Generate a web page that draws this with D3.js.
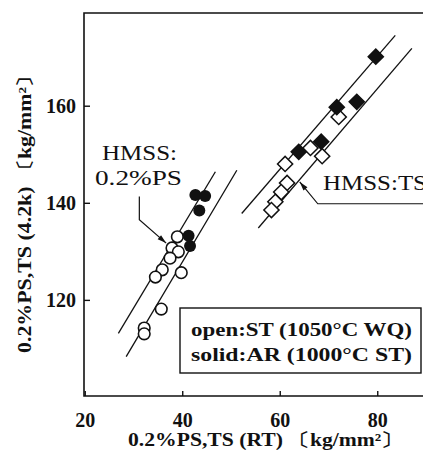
<!DOCTYPE html>
<html>
<head>
<meta charset="utf-8">
<script src="https://cdn.jsdelivr.net/npm/d3@7"></script>
<style>
body { margin: 0; background: #fff; }
svg { display: block; }
text { font-family: "Liberation Serif", "DejaVu Serif", serif; fill: #111; }
</style>
</head>
<body>
<svg id="chart" width="423" height="453"></svg>
<script>
// 0.2%PS (circles) and TS (diamonds), RT vs 4.2K
var openPS = [[39.0, 133.0], [37.9, 130.7], [39.2, 129.9], [37.5, 128.6], [35.9, 126.2],
              [34.5, 124.7], [39.8, 125.6], [35.7, 118.1], [32.2, 114.2], [32.2, 113.0]];
var solidPS = [[42.7, 141.6], [44.7, 141.4], [43.5, 138.4], [41.3, 133.2], [41.6, 131.1]];
var openTS = [[72.1, 157.7], [66.3, 151.3], [68.7, 149.6], [61.1, 148.0], [61.5, 144.1],
              [60.3, 142.2], [59.1, 140.2], [58.3, 138.5]];
var solidTS = [[79.7, 170.1], [75.8, 160.8], [71.7, 159.7], [68.5, 152.6], [63.9, 150.5]];

var fitLines = [
    [[26.9, 113.1], [46.8, 146.4]],
    [[28.5, 108.3], [51.2, 146.7]],
    [[52.2, 137.8], [83.7, 174.5]],
    [[55.6, 134.8], [87.1, 171.8]]
];

var xTicks = [20, 40, 60, 80];
var yTicks = [120, 140, 160];

var xTitle = "0.2%PS,TS (RT) \u3014kg/mm\u00b2\u3015";
var yTitle = "0.2%PS,TS (4.2k) \u3014kg/mm\u00b2\u3015";
var legendLines = ["open:ST (1050\u00b0C  WQ)", "solid:AR (1000\u00b0C  ST)"];

var svg = d3.select("#chart");

var x = d3.scaleLinear().domain([19.85, 90]).range([84, 426]);
var y = d3.scaleLinear().domain([100.2, 179.1]).range([396, 13]);

// frame (right side runs off the picture)
svg.append("path")
    .attr("d", "M" + x(90) + "," + y(179.1) + "H" + x(19.85) + "V" + y(100.2) + "H" + x(90))
    .attr("fill", "none")
    .attr("stroke", "#111")
    .attr("stroke-width", 1.6);

var xAxis = d3.axisBottom(x).tickValues(xTicks).tickSizeInner(-5).tickSizeOuter(0).tickPadding(13);
var yAxis = d3.axisLeft(y).tickValues(yTicks).tickSizeInner(-6).tickSizeOuter(0).tickPadding(13);

var gx = svg.append("g").attr("transform", "translate(0," + y(100.2) + ")").call(xAxis);
var gy = svg.append("g").attr("transform", "translate(" + x(19.85) + ",0)").call(yAxis);

[gx, gy].forEach(function(g)
{
    g.select(".domain").remove();
    g.selectAll("line").attr("stroke", "#111").attr("stroke-width", 1.4);
    g.selectAll("text")
        .attr("fill", "#111")
        .style("font-family", "'Liberation Serif', serif")
        .style("font-size", "20px")
        .style("font-weight", "bold");
});
gx.selectAll("text").attr("dy", "0.9em");
gy.selectAll("text").attr("x", -8);

// axis titles
svg.append("text")
    .attr("x", 128).attr("y", 446)
    .attr("textLength", 275).attr("lengthAdjust", "spacingAndGlyphs")
    .style("font-size", "18px").style("font-weight", "bold")
    .text(xTitle);

svg.append("text")
    .attr("transform", "translate(31,353) rotate(-90)")
    .attr("textLength", 288).attr("lengthAdjust", "spacingAndGlyphs")
    .style("font-size", "18px").style("font-weight", "bold")
    .text(yTitle);

// fitted lines
var line = d3.line().x(function(d) { return x(d[0]); }).y(function(d) { return y(d[1]); });
svg.selectAll(".fit")
    .data(fitLines)
    .enter().append("path")
    .attr("class", "fit")
    .attr("d", line)
    .attr("fill", "none")
    .attr("stroke", "#111")
    .attr("stroke-width", 1.3);

// circles: 0.2%PS
svg.selectAll(".ops")
    .data(openPS)
    .enter().append("circle")
    .attr("class", "ops")
    .attr("cx", function(d) { return x(d[0]); })
    .attr("cy", function(d) { return y(d[1]); })
    .attr("r", 5.8)
    .attr("fill", "#fff")
    .attr("stroke", "#111")
    .attr("stroke-width", 1.6);

svg.selectAll(".sps")
    .data(solidPS)
    .enter().append("circle")
    .attr("class", "sps")
    .attr("cx", function(d) { return x(d[0]); })
    .attr("cy", function(d) { return y(d[1]); })
    .attr("r", 6)
    .attr("fill", "#111");

// diamonds: TS
var diamond = d3.symbol().type(d3.symbolSquare).size(115);

svg.selectAll(".ots")
    .data(openTS)
    .enter().append("path")
    .attr("class", "ots")
    .attr("d", diamond)
    .attr("transform", function(d) { return "translate(" + x(d[0]) + "," + y(d[1]) + ") rotate(45)"; })
    .attr("fill", "#fff")
    .attr("stroke", "#111")
    .attr("stroke-width", 1.5);

svg.selectAll(".sts")
    .data(solidTS)
    .enter().append("path")
    .attr("class", "sts")
    .attr("d", diamond)
    .attr("transform", function(d) { return "translate(" + x(d[0]) + "," + y(d[1]) + ") rotate(45)"; })
    .attr("fill", "#111")
    .attr("stroke", "#111")
    .attr("stroke-width", 1.5);

// annotations
function arrowHead(tip, from, len, w)
{
    var dx = tip[0] - from[0], dy = tip[1] - from[1];
    var l = Math.sqrt(dx * dx + dy * dy);
    var ux = dx / l, uy = dy / l;
    var bx = tip[0] - ux * len, by = tip[1] - uy * len;
    return "M" + tip[0] + "," + tip[1] +
        "L" + (bx - uy * w) + "," + (by + ux * w) +
        "L" + (bx + uy * w) + "," + (by - ux * w) + "Z";
}

var psLeader = [[31.2, 141.3], [31.2, 136.5], [36.7, 131.7]];
var tsLeader = [[90, 139.8], [67.8, 139.8], [64.1, 144.3]];

[psLeader, tsLeader].forEach(function(pts)
{
    var p = pts.map(function(d) { return [x(d[0]), y(d[1])]; });
    svg.append("path")
        .attr("d", d3.line()(p))
        .attr("fill", "none")
        .attr("stroke", "#111")
        .attr("stroke-width", 1.2);
    svg.append("path")
        .attr("d", arrowHead(p[2], p[1], 9, 2.6))
        .attr("fill", "#111");
});

svg.append("text")
    .attr("x", 102).attr("y", 160)
    .attr("textLength", 75).attr("lengthAdjust", "spacingAndGlyphs")
    .style("font-size", "21px")
    .text("HMSS:");
svg.append("text")
    .attr("x", 95).attr("y", 185)
    .attr("textLength", 87).attr("lengthAdjust", "spacingAndGlyphs")
    .style("font-size", "21px")
    .text("0.2%PS");
svg.append("text")
    .attr("x", 323).attr("y", 190)
    .attr("textLength", 104).attr("lengthAdjust", "spacingAndGlyphs")
    .style("font-size", "21px")
    .text("HMSS:TS");

// legend box
svg.append("rect")
    .attr("x", 180).attr("y", 308)
    .attr("width", 241).attr("height", 65)
    .attr("fill", "#fff")
    .attr("stroke", "#111")
    .attr("stroke-width", 1.4);

svg.selectAll(".leg")
    .data(legendLines)
    .enter().append("text")
    .attr("class", "leg")
    .attr("x", 191)
    .attr("y", function(d, i) { return 336 + i * 25; })
    .attr("textLength", 221).attr("lengthAdjust", "spacingAndGlyphs")
    .style("font-size", "19px")
    .style("font-weight", "bold")
    .text(function(d) { return d; });
</script>
</body>
</html>
